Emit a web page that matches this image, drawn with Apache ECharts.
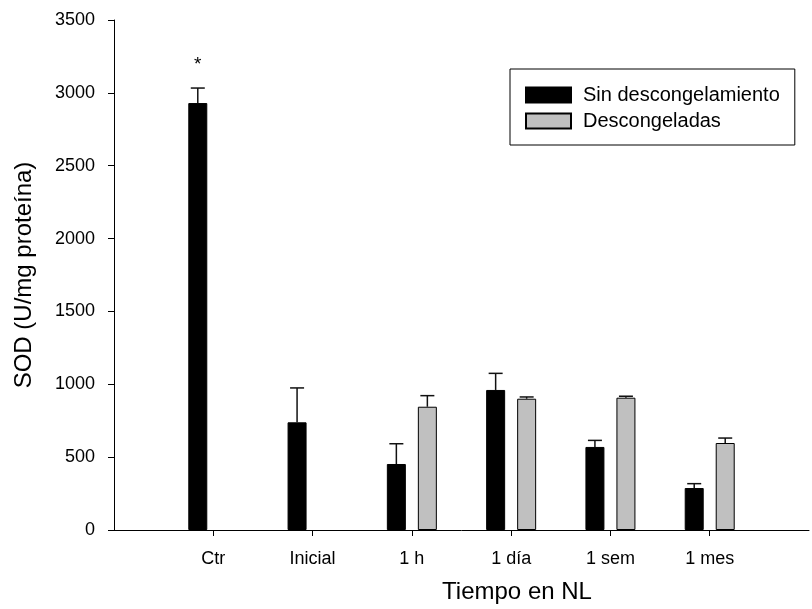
<!DOCTYPE html>
<html>
<head>
    <meta charset="utf-8">
    <title>SOD</title>
    <script src="https://cdn.jsdelivr.net/npm/echarts@6/dist/echarts.min.js"></script>
    <style>
        html, body { margin: 0; padding: 0; background: #fff; }
    </style>
</head>
<body>
<div id="main" style="width: 812px; height: 609px;"></div>
<script type="text/javascript">
    // datos
    var categorias = ['Ctr', 'Inicial', '1 h', '1 día', '1 sem', '1 mes'];
    var sinDescong = [2930, 739, 453, 961, 570, 288];
    var sinDescongErr = [103, 236, 139, 114, 45, 30];
    var descongeladas = [null, null, 846, 901, 908, 597];
    var descongeladasErr = [null, null, 76, 12, 10, 34];
    var marcas = ['*', '', '', '', '', ''];
    var yTicks = [0, 500, 1000, 1500, 2000, 2500, 3000, 3500];

    var fuente = 'Liberation Sans, Arial, sans-serif';
    var anchoBarra = 19;
    var huecoBarra = 12;

    // categoría vacía al principio y al final (el eje empieza antes de Ctr)
    var cats = [''].concat(categorias).concat(['']);
    function relleno(arr) {
        return [null].concat(arr).concat([null]);
    }

    function datosError(vals, errs) {
        var out = [];
        for (var i = 0; i < vals.length; i++) {
            if (vals[i] == null) continue;
            out.push([i + 1, vals[i], vals[i] + errs[i], marcas[i] || '']);
        }
        return out;
    }

    function barraError(desplaza, conMarca) {
        return function (params, api) {
            var x = api.value(0);
            var base = api.coord([x, api.value(1)]);
            var tope = api.coord([x, api.value(2)]);
            var cx = base[0] + desplaza;
            var hijos = [
                {type: 'line', shape: {x1: cx, y1: base[1], x2: cx, y2: tope[1]},
                    style: {stroke: '#111', lineWidth: 1.5}},
                {type: 'line', shape: {x1: cx - 7, y1: tope[1], x2: cx + 7, y2: tope[1]},
                    style: {stroke: '#111', lineWidth: 1.5}}
            ];
            var m = api.value(3);
            if (conMarca && m) {
                hijos.push({type: 'text', style: {
                    x: cx, y: tope[1] - 14, text: m, align: 'center', verticalAlign: 'bottom',
                    font: '19px ' + fuente, fill: '#000'}});
            }
            return {type: 'group', children: hijos};
        };
    }

    var myChart = echarts.init(document.getElementById('main'));
    var desp = (anchoBarra + huecoBarra) / 2;

    var option = {
        animation: false,
        backgroundColor: '#fff',
        textStyle: {fontFamily: fuente, color: '#000'},
        grid: {left: 114, top: 20, width: 707, height: 510},
        legend: {
            data: ['Sin descongelamiento', 'Descongeladas'],
            orient: 'vertical',
            left: 510, top: 69,
            padding: [16, 15, 14, 15],
            borderColor: '#000', borderWidth: 1,
            itemWidth: 45, itemHeight: 15, itemGap: 6,
            icon: 'rect',
            textStyle: {fontSize: 20, color: '#000', fontFamily: fuente, lineHeight: 20,
                padding: [0, 0, 0, 7]}
        },
        xAxis: {
            type: 'category',
            data: cats,
            boundaryGap: false,
            name: 'Tiempo en NL',
            nameLocation: 'middle',
            nameGap: 50,
            nameTextStyle: {fontSize: 24, color: '#000', padding: [0, 0, 0, 111]},
            axisLine: {lineStyle: {color: '#000', width: 1}},
            axisTick: {length: 6, lineStyle: {color: '#000'},
                interval: function (i) { return i > 0 && i < cats.length - 1; }},
            axisLabel: {fontSize: 18, color: '#000', margin: 20, interval: 0},
            splitLine: {show: false}
        },
        yAxis: {
            type: 'value',
            min: yTicks[0], max: yTicks[yTicks.length - 1], interval: yTicks[1] - yTicks[0],
            name: 'SOD (U/mg proteína)',
            nameLocation: 'middle',
            nameGap: 78,
            nameTextStyle: {fontSize: 24, color: '#000'},
            axisLine: {show: true, lineStyle: {color: '#000', width: 1}},
            axisTick: {show: true, length: 6, lineStyle: {color: '#000'}},
            axisLabel: {fontSize: 18, color: '#000', margin: 19,
                formatter: function (v) { return String(v); }},
            splitLine: {show: false}
        },
        series: [
            {
                name: 'Sin descongelamiento',
                type: 'bar',
                barWidth: anchoBarra,
                barGap: (huecoBarra / anchoBarra * 100) + '%',
                data: relleno(sinDescong),
                itemStyle: {color: '#000', borderColor: '#000', borderWidth: 1}
            },
            {
                name: 'Descongeladas',
                type: 'bar',
                barWidth: anchoBarra,
                data: relleno(descongeladas),
                itemStyle: {color: '#c0c0c0', borderColor: '#000', borderWidth: 1}
            },
            {
                type: 'custom',
                renderItem: barraError(-desp, true),
                data: datosError(sinDescong, sinDescongErr),
                z: 1
            },
            {
                type: 'custom',
                renderItem: barraError(desp, false),
                data: datosError(descongeladas, descongeladasErr),
                z: 1
            }
        ]
    };

    myChart.setOption(option);
</script>
</body>
</html>
